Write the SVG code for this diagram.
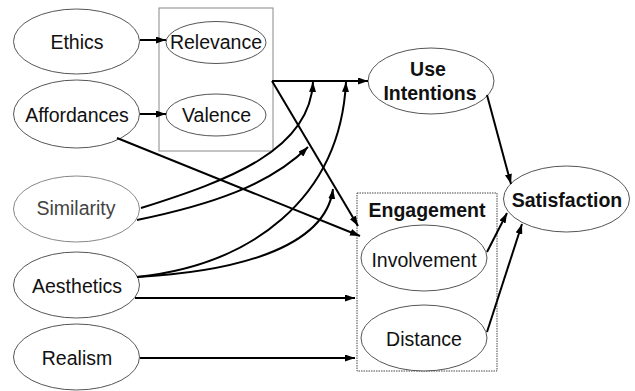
<svg xmlns="http://www.w3.org/2000/svg" width="635" height="391" viewBox="0 0 635 391">
<defs>
<marker id="ah" markerUnits="userSpaceOnUse" markerWidth="10" markerHeight="7" refX="10" refY="3.5" orient="auto">
<path d="M0,0 L10,3.5 L0,7 z" fill="#000"/>
</marker>
<style>
.n{fill:#fff;stroke:#555;stroke-width:1}
.g{fill:#fff;stroke:#888;stroke-width:1}
.t{font-family:"Liberation Sans",Arial,sans-serif;font-size:19.5px;fill:#111;text-anchor:middle}
.b{font-weight:bold}
.e{fill:none;stroke:#000;stroke-width:2;marker-end:url(#ah)}
</style>
</defs>
<rect width="635" height="391" fill="#fff"/>
<g id="box-rv"><rect x="159" y="8" width="114" height="143" fill="none" stroke="#888" stroke-width="1"/></g>
<g id="box-engagement"><rect x="357" y="193" width="140" height="178" fill="none" stroke="#444" stroke-width="1" stroke-dasharray="1.5,1"/>
<text class="t b" x="427" y="217">Engagement</text></g>
<g id="ethics"><ellipse class="n" cx="76.5" cy="41.5" rx="63" ry="32.5"/><text class="t" x="77" y="49">Ethics</text></g>
<g id="affordances"><ellipse class="n" cx="76.5" cy="114" rx="63" ry="34"/><text class="t" x="77" y="121.5">Affordances</text></g>
<g id="similarity"><ellipse class="g" cx="76.5" cy="209" rx="63" ry="33"/><text class="t" x="76" y="214.5" style="fill:#444">Similarity</text></g>
<g id="aesthetics"><ellipse class="n" cx="76.5" cy="285" rx="63" ry="33"/><text class="t" x="77" y="292.5">Aesthetics</text></g>
<g id="realism"><ellipse class="n" cx="76.5" cy="357" rx="63" ry="33"/><text class="t" x="77" y="365">Realism</text></g>
<g id="relevance"><ellipse class="n" cx="216" cy="42.5" rx="50" ry="21"/><text class="t" x="216" y="49">Relevance</text></g>
<g id="valence"><ellipse class="n" cx="216" cy="115" rx="50" ry="21"/><text class="t" x="216.5" y="121.5">Valence</text></g>
<g id="use-intentions"><ellipse class="n" cx="431" cy="81" rx="63" ry="33"/><text class="t b" x="428" y="76">Use</text><text class="t b" x="430" y="100">Intentions</text></g>
<g id="satisfaction"><ellipse class="n" cx="566.5" cy="199" rx="63" ry="33"/><text class="t b" x="567" y="207">Satisfaction</text></g>
<g id="involvement"><ellipse class="n" cx="424" cy="258" rx="63" ry="33"/><text class="t" x="424" y="267">Involvement</text></g>
<g id="distance"><ellipse class="n" cx="424" cy="338" rx="63" ry="33"/><text class="t" x="424" y="345.5">Distance</text></g>
<g id="connectors">
<path class="e" d="M140,40 L166,40"/>
<path class="e" d="M140,114 L166,114"/>
<path class="e" d="M272,81 L368,81"/>
<path class="e" d="M272,81 L358,226"/>
<path class="e" d="M117,138 L360,236"/>
<path class="e" d="M141,208 C230,180 310,150 313,82"/>
<path class="e" d="M137,220 C210,205 270,185 308,147"/>
<path class="e" d="M137,277 C250,265 340,200 346,82"/>
<path class="e" d="M137,277 C230,272 325,250 333,189"/>
<path class="e" d="M135,298 L355,298"/>
<path class="e" d="M140,358 L355,358"/>
<path class="e" d="M487,95 L511,184"/>
<path class="e" d="M487,252 L507,213"/>
<path class="e" d="M487,332 L522,224"/>
</g>
</svg>
